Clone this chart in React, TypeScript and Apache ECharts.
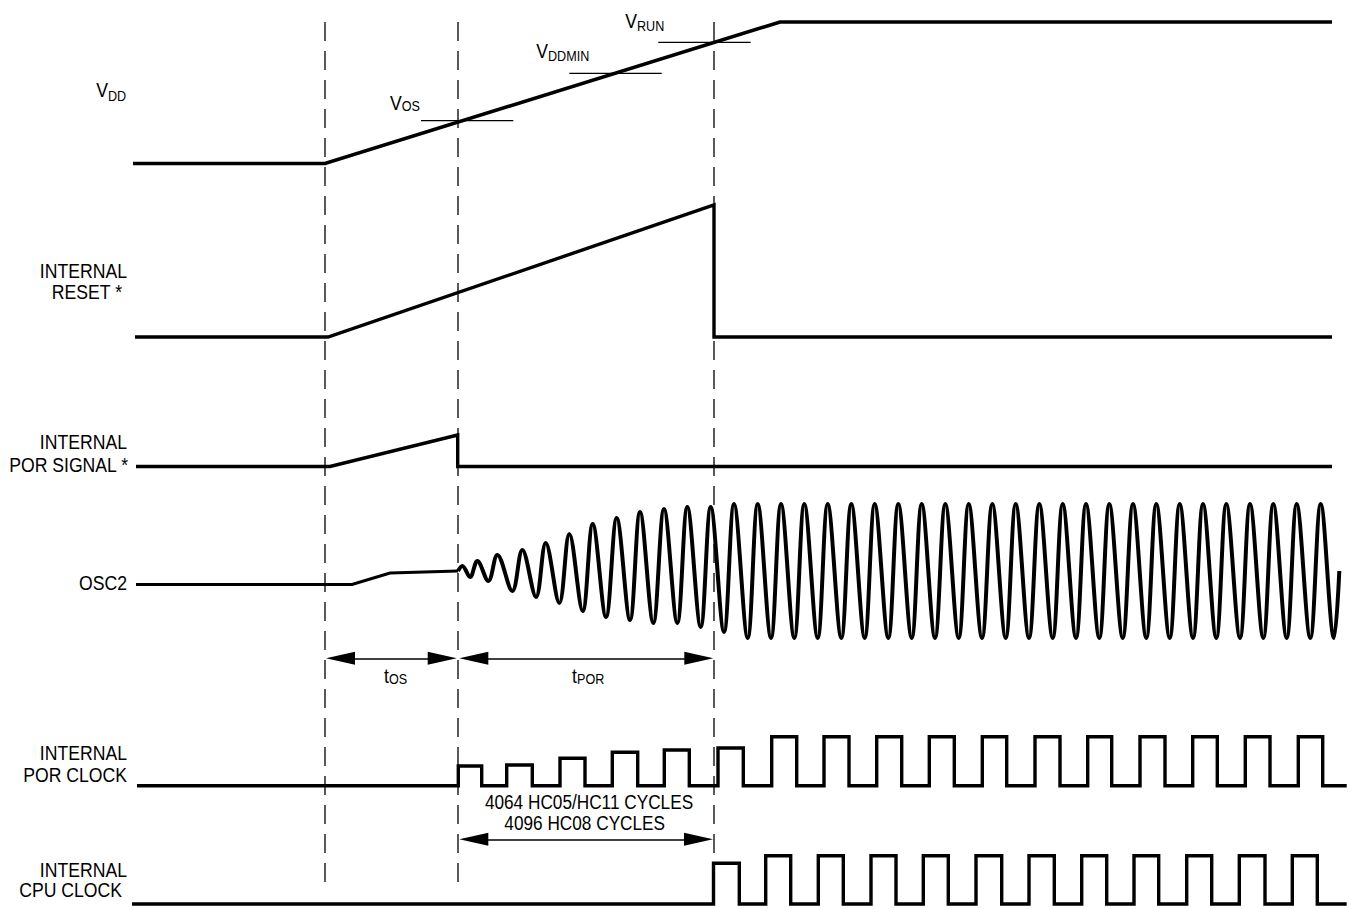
import React, { useEffect, useRef } from "react";
import * as echarts from "echarts";

// Horizontal axis: time (picture units). Vertical axis: level (picture units, downward).
const markerTimes = [325, 458, 714];
const markerSpan = [22, 888];

const vddT = [133, 325, 780, 1332];
const vddV = [163.5, 163.5, 22, 22];

const resetT = [135, 328, 714, 714, 1332];
const resetV = [337, 337, 205, 337, 337];

const porSigT = [136, 330, 457.7, 457.7, 1332];
const porSigV = [466.5, 466.5, 435, 466.5, 466.5];

const oscStartT = [136, 352, 390, 458];
const oscStartV = [584.5, 584.5, 573, 571];

const oscT = [
  458, 462.3, 470, 477.3, 488.3, 497.3, 512.3, 522.3, 536, 545.7, 559.3, 569.3,
  582.7, 592.7, 606, 616.7, 630, 640, 653.3, 664, 677.3, 687.3, 700.7, 710.7,
  724, 734, 747.7, 757.7, 771, 781, 794.3, 804.3, 817.7, 827.7, 841.3, 851.3,
  864.7, 874.7, 888.3, 898.3, 911.7, 921.7, 935, 945.3, 958.7, 968.7, 982, 992.3,
  1005.7, 1015.7, 1029, 1039.3, 1052.7, 1062.7, 1076, 1086, 1099.3, 1109.3,
  1122.7, 1133, 1146.3, 1156.3, 1169.7, 1179.7, 1193, 1203, 1216.3, 1226.3,
  1240, 1250, 1263.3, 1273.3, 1286.7, 1296.7, 1310.3, 1320.7, 1334, 1339.3,
];
const oscV = [
  571, 566, 577, 561, 581, 555, 591, 550, 597, 543, 603, 534,
  611, 524, 617, 518, 620, 512, 623, 509, 623, 507, 627, 507,
  632, 504, 638, 504, 638, 504, 638, 504, 638, 504, 638, 504,
  638, 504, 638, 504, 638, 504, 638, 504, 638, 504, 638, 504,
  638, 504, 638, 504, 638, 504, 638, 504, 638, 504,
  638, 504, 638, 504, 638, 504, 638, 504, 638, 504,
  638, 504, 638, 504, 638, 504, 638, 504, 638, 571,
];

const porClkEdges = [
  137, 458.3, 481.7, 506.7, 532.3, 560, 585, 612.3, 637.7, 664.3, 689.3,
  718, 743.3, 771.7, 796.7, 824, 849, 876.7, 901.7, 929.3, 954.3, 982.3, 1006.7,
  1035, 1060, 1087.7, 1111.7, 1140, 1165, 1192.7, 1217.3, 1245.3, 1270, 1298.3,
  1322.7, 1346.7,
];
const porClkLevels = [
  785.7, 766, 785.7, 765, 785.7, 758.3, 785.7, 752.3, 785.7, 750, 785.7,
  748, 785.7, 736.7, 785.7, 736.7, 785.7, 736.7, 785.7, 736.7, 785.7, 736.7, 785.7,
  736.7, 785.7, 736.7, 785.7, 736.7, 785.7, 736.7, 785.7, 736.7, 785.7, 736.7,
  785.7, 785.7,
];

const cpuClkEdges = [
  132, 713.5, 739.3, 765.7, 790.7, 818.3, 843.3, 871, 896, 923.3, 948.3, 976,
  1001.7, 1029, 1054.3, 1081.7, 1106.7, 1134, 1158.7, 1186.7, 1211.7, 1239.3,
  1265, 1292.3, 1317.3, 1346.7,
];
const cpuClkLevels = [
  904, 863.3, 904, 855.7, 904, 855.7, 904, 855.7, 904, 855.7, 904, 855.7,
  904, 855.7, 904, 855.7, 904, 855.7, 904, 855.7, 904, 855.7,
  904, 855.7, 904, 904,
];

const thresholdNames = ["OS", "DDMIN", "RUN"];
const thresholdLevels = [120.7, 73.3, 42.3];
const thresholdFrom = [421, 569.3, 658.3];
const thresholdTo = [513.3, 661.7, 750.7];

const intervalNames = ["OS", "POR"];
const arrowTips = [
  [326, 456.7],
  [459.3, 713.3],
  [459.3, 713],
];
const arrowLevels = [658.3, 658.3, 839.3];

const signalLabels = [
  ["INTERNAL", "RESET *"],
  ["INTERNAL", "POR SIGNAL *"],
  ["OSC2"],
  ["INTERNAL", "POR CLOCK"],
  ["INTERNAL", "CPU CLOCK"],
];
const cycleNotes = ["4064 HC05/HC11 CYCLES", "4096 HC08 CYCLES"];

const FONT = "'Liberation Sans', Arial, sans-serif";
const NARROW = 0.84;

export default function App() {
  const ref = useRef<HTMLDivElement>(null);
  useEffect(() => {
    const chart = echarts.init(ref.current!, null, { renderer: "svg" });
    const pts = (t: number[], v: number[]) => t.map((x, i) => [x, v[i]]);
    const black = "#000";
    const trace = (data: number[][], width = 3, extra: any = {}) => ({
      type: "line",
      data,
      symbol: "none",
      silent: true,
      lineStyle: { color: black, width, cap: "butt", join: "miter" },
      ...extra,
    });

    const series: any[] = [];
    markerTimes.forEach((t) =>
      series.push({
        type: "line",
        data: [
          [t, markerSpan[0]],
          [t, markerSpan[1]],
        ],
        symbol: "none",
        silent: true,
        lineStyle: { color: black, width: 1.3, type: [19, 10] },
      })
    );
    thresholdLevels.forEach((lvl, i) =>
      series.push(
        trace(
          [
            [thresholdFrom[i], lvl],
            [thresholdTo[i], lvl],
          ],
          1.3
        )
      )
    );
    series.push(trace(pts(vddT, vddV), 3.6));
    series.push(trace(pts(resetT, resetV), 3.4));
    series.push(trace(pts(porSigT, porSigV), 3.4));
    series.push(trace(pts(oscStartT, oscStartV), 3.2));
    series.push(trace(pts(oscT, oscV), 4, { smooth: 0.36 }));
    series.push(trace(pts(porClkEdges, porClkLevels), 3.4, { step: "end" }));
    series.push(trace(pts(cpuClkEdges, cpuClkLevels), 3.4, { step: "end" }));

    const headLen = 29;
    series.push({
      type: "line",
      data: [],
      silent: true,
      markLine: {
        silent: true,
        symbol: ["triangle", "triangle"],
        symbolSize: [13, headLen],
        label: { show: false },
        emphasis: { disabled: true },
        lineStyle: { color: black, width: 1.6, type: "solid" },
        data: arrowTips.map(([a, b], i) => [
          { coord: [a + headLen / 2, arrowLevels[i]] },
          { coord: [b - headLen / 2, arrowLevels[i]] },
        ]),
      },
    });

    const txt = (text: string, x: number, y: number, size: number, align: string) => ({
      type: "text",
      x,
      y,
      scaleX: NARROW,
      silent: true,
      style: {
        text,
        fontSize: size,
        fontFamily: FONT,
        fill: black,
        align,
        verticalAlign: "middle",
      },
    });

    const g: any[] = [];
    // V_DD
    g.push(txt("V", 108, 89, 21, "right"));
    g.push(txt("DD", 108, 96, 15, "left"));
    // Signal labels
    const lblPos = [
      [
        [127, 270],
        [122, 291.5],
      ],
      [
        [127, 441],
        [128, 464.3],
      ],
      [[127, 582.5]],
      [
        [127, 752],
        [127, 774],
      ],
      [
        [127, 869],
        [122, 889],
      ],
    ];
    signalLabels.forEach((lines, i) =>
      lines.forEach((s, j) => g.push(txt(s, lblPos[i][j][0], lblPos[i][j][1], 21, "right")))
    );
    // Threshold labels
    const thrLblPos = [
      [401.7, 102.5, 106],
      [548, 50.5, 55.5],
      [637, 20.5, 25.5],
    ];
    thresholdNames.forEach((n, i) => {
      g.push(txt("V", thrLblPos[i][0], thrLblPos[i][1], 21, "right"));
      g.push(txt(n, thrLblPos[i][0], thrLblPos[i][2], 15, "left"));
    });
    // Interval labels
    const intLblX = [389, 577];
    intervalNames.forEach((n, i) => {
      g.push(txt("t", intLblX[i], 675.7, 21, "right"));
      g.push(txt(n, intLblX[i], 679, 15, "left"));
    });
    g.push(txt(cycleNotes[0], 589, 801.7, 20.5, "center"));
    g.push(txt(cycleNotes[1], 584.7, 823.3, 20.5, "center"));

    chart.setOption({
      animation: false,
      backgroundColor: "#fff",
      grid: { left: 0, right: 0, top: 0, bottom: 0 },
      xAxis: { type: "value", min: 0, max: 1351, show: false },
      yAxis: { type: "value", min: 0, max: 909, inverse: true, show: false },
      series,
      graphic: g,
    });
    return () => chart.dispose();
  }, []);
  return (
    <div
      ref={ref}
      style={{ position: "absolute", left: 0, top: 0, width: 1351, height: 909 }}
    />
  );
}
